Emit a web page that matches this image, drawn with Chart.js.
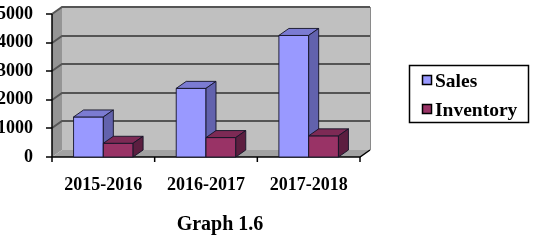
<!DOCTYPE html>
<html><head><meta charset="utf-8">
<script src="https://cdn.jsdelivr.net/npm/chart.js@4.4.1/dist/chart.umd.min.js"></script>
<style>html,body{margin:0;padding:0;background:#fff;overflow:hidden}</style>
</head><body>
<canvas id="c" width="533" height="240" style="display:block;width:533px;height:240px"></canvas>
<script>
const categories = ['2015-2016', '2016-2017', '2017-2018'];
const salesValues = [1400, 2400, 4250];
const inventoryValues = [480, 680, 740];
const yTicks = [0, 1000, 2000, 3000, 4000, 5000];
const seriesNames = ['Sales', 'Inventory'];
const chartTitle = 'Graph 1.6';

const FONT = "'Liberation Serif', 'Times New Roman', serif";
const DX = 10, DY = 7;

function poly(ctx, pts, fill, stroke) {
  ctx.beginPath();
  ctx.moveTo(pts[0][0], pts[0][1]);
  for (let i = 1; i < pts.length; i++) ctx.lineTo(pts[i][0], pts[i][1]);
  ctx.closePath();
  if (fill) { ctx.fillStyle = fill; ctx.fill(); }
  if (stroke) { ctx.strokeStyle = stroke; ctx.lineWidth = 1; ctx.stroke(); }
}

const threeD = {
  id: 'threeD',
  beforeDatasetsDraw(chart) {
    const ctx = chart.ctx, a = chart.chartArea, y = chart.scales.y;
    ctx.save();
    // back wall
    poly(ctx, [[a.left + DX, a.top - DY], [a.right + DX, a.top - DY], [a.right + DX, a.bottom - DY], [a.left + DX, a.bottom - DY]], '#c0c0c0');
    // left wall
    poly(ctx, [[a.left, a.top], [a.left + DX, a.top - DY], [a.left + DX, a.bottom - DY], [a.left, a.bottom]], '#959595');
    // floor
    poly(ctx, [[a.left, a.bottom], [a.right, a.bottom], [a.right + DX, a.bottom - DY], [a.left + DX, a.bottom - DY]], '#a2a2a2');
    // back wall right edge
    ctx.strokeStyle = '#8a8a8a'; ctx.lineWidth = 1;
    ctx.beginPath(); ctx.moveTo(a.right + DX + 0.5, a.top - DY); ctx.lineTo(a.right + DX + 0.5, a.bottom - DY); ctx.stroke();
    // gridlines
    ctx.strokeStyle = '#555555'; ctx.lineWidth = 2;
    yTicks.forEach(v => {
      if (v === 0) return;
      const py = Math.round(y.getPixelForValue(v));
      ctx.beginPath();
      ctx.moveTo(a.left, py);
      ctx.lineTo(a.left + DX, py - DY);
      ctx.lineTo(a.right + DX, py - DY);
      ctx.stroke();
    });
    // front axes
    ctx.strokeStyle = '#000'; ctx.lineWidth = 1.5;
    ctx.beginPath(); ctx.moveTo(a.left, a.top); ctx.lineTo(a.left, a.bottom); ctx.stroke();
    ctx.beginPath(); ctx.moveTo(a.left, a.bottom); ctx.lineTo(a.right, a.bottom); ctx.lineTo(a.right + DX, a.bottom - DY); ctx.stroke();
    yTicks.forEach(v => {
      const py = Math.round(y.getPixelForValue(v));
      ctx.beginPath(); ctx.moveTo(a.left - 6, py); ctx.lineTo(a.left, py); ctx.stroke();
    });
    const n = categories.length;
    for (let i = 0; i <= n; i++) {
      const px = a.left + (a.right - a.left) * i / n;
      ctx.beginPath(); ctx.moveTo(px, a.bottom); ctx.lineTo(px, a.bottom + 5); ctx.stroke();
    }
    // bars, left to right
    for (let i = 0; i < n; i++) {
      chart.data.datasets.forEach((ds, d) => {
        const el = chart.getDatasetMeta(d).data[i];
        const p = el.getProps(['x', 'y', 'base', 'width'], true);
        const x1 = p.x - p.width / 2, x2 = p.x + p.width / 2, top = p.y, base = p.base;
        const st = 'rgba(20,20,40,0.9)';
        poly(ctx, [[x1, top], [x2, top], [x2, base], [x1, base]], ds.backgroundColor, st);
        poly(ctx, [[x1, top], [x1 + DX, top - DY], [x2 + DX, top - DY], [x2, top]], ds.topColor, st);
        poly(ctx, [[x2, top], [x2 + DX, top - DY], [x2 + DX, base - DY], [x2, base]], ds.sideColor, st);
      });
    }
    ctx.restore();
    return false;
  },
  afterDraw(chart) {
    const ctx = chart.ctx;
    ctx.save();
    // legend
    ctx.strokeStyle = '#000'; ctx.lineWidth = 1.5;
    ctx.strokeRect(409.5, 65.5, 119, 57);
    ctx.font = 'bold 19.5px ' + FONT;
    ctx.textBaseline = 'alphabetic';
    ctx.textAlign = 'left';
    chart.data.datasets.forEach((ds, d) => {
      const yy = 75 + d * 29;
      ctx.fillStyle = ds.backgroundColor;
      ctx.fillRect(422, yy, 10, 10);
      ctx.lineWidth = 1.5; ctx.strokeStyle = '#000';
      ctx.strokeRect(422.5, yy + 0.5, 9, 9);
      ctx.fillStyle = '#000';
      ctx.fillText(ds.label, 435, yy + 12);
    });
    // title
    ctx.font = 'bold 20px ' + FONT;
    ctx.textAlign = 'center';
    ctx.fillText(chartTitle, 220, 230);
    ctx.restore();
  }
};

new Chart(document.getElementById('c'), {
  type: 'bar',
  data: {
    labels: categories,
    datasets: [
      { label: seriesNames[0], data: salesValues, backgroundColor: '#9999ff', topColor: '#7b7bd2', sideColor: '#6262ad',
        categoryPercentage: 0.58, barPercentage: 1 },
      { label: seriesNames[1], data: inventoryValues, backgroundColor: '#993366', topColor: '#7d2a55', sideColor: '#5c1e40',
        categoryPercentage: 0.58, barPercentage: 1 }
    ]
  },
  options: {
    responsive: false,
    devicePixelRatio: 1,
    animation: false,
    layout: { autoPadding: false, padding: { left: 0, top: 14, right: 173, bottom: 38 } },
    plugins: { legend: { display: false }, title: { display: false }, tooltip: { enabled: false } },
    scales: {
      x: {
        grid: { display: false, drawTicks: false },
        border: { display: false },
        ticks: { color: '#000', font: { family: FONT, size: 18, weight: 'bold' }, padding: 18, maxRotation: 0 },
        afterFit: s => { s.height = 45; s.paddingLeft = 0; s.paddingRight = 0; }
      },
      y: {
        min: 0, max: 5000,
        grid: { display: false, drawTicks: false },
        border: { display: false },
        ticks: { color: '#000', font: { family: FONT, size: 18, weight: 'bold' }, padding: 19,
                 callback: v => String(v) },
        afterBuildTicks: s => { s.ticks = yTicks.map(v => ({ value: v })); },
        afterFit: s => { s.width = 52; s.paddingTop = 0; s.paddingBottom = 0; }
      }
    }
  },
  plugins: [threeD]
});
</script>
</body></html>
